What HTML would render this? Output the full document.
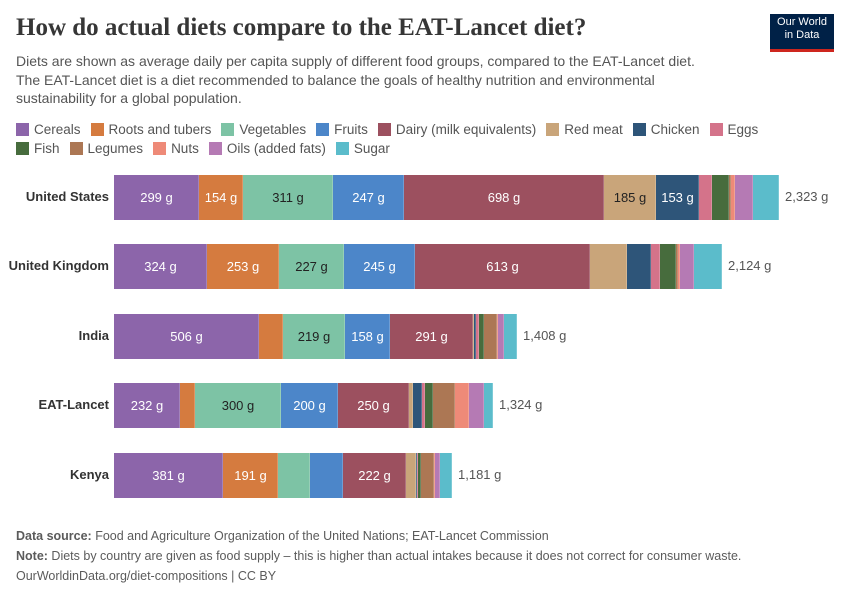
<!DOCTYPE html><html><head><style>
body{margin:0;width:850px;height:600px;background:#fff;font-family:"Liberation Sans",sans-serif;position:relative;overflow:hidden}
.a{position:absolute}
.t{font-family:"Liberation Serif",serif;font-weight:bold;font-size:25px;color:#363636;left:16px;top:14px}
.sub{left:16px;top:52px;font-size:14px;line-height:18.5px;color:#555;width:722px}
.lg{top:120px;left:16px;font-size:13.5px;color:#555;width:800px;line-height:19px}
.lg span{display:inline-block;margin-right:10px;white-space:nowrap}
.lg i{display:inline-block;width:13px;height:13px;vertical-align:-2px;margin-right:5px}
.bar{position:absolute;height:45px}
.s{position:absolute;top:0;height:100%;display:flex;align-items:center;justify-content:center;font-size:13px;color:#fff;white-space:nowrap;overflow:visible}
.cn{position:absolute;right:741px;font-size:13px;font-weight:bold;color:#333;text-align:right}
.tot{position:absolute;font-size:13px;color:#555}
.f{left:16px;font-size:12.5px;color:#5b5b5b}
</style></head><body>
<div class="a t">How do actual diets compare to the EAT-Lancet diet?</div>
<div class="a" style="left:770px;top:14px;width:64px;height:38px;background:#002147;border-bottom:3px solid #ce261e;color:#fff;font-size:11px;line-height:13px;text-align:center;padding-top:2px;box-sizing:border-box">Our World<br>in Data</div>
<div class="a sub">Diets are shown as average daily per capita supply of different food groups, compared to the EAT-Lancet diet.<br>The EAT-Lancet diet is a diet recommended to balance the goals of healthy nutrition and environmental sustainability for a global population.</div>
<div class="a lg">
<span><i style="background:#8c65aa"></i>Cereals</span><span><i style="background:#d57b3f"></i>Roots and tubers</span><span><i style="background:#7dc3a5"></i>Vegetables</span><span><i style="background:#4c86c9"></i>Fruits</span><span><i style="background:#9c505f"></i>Dairy (milk equivalents)</span><span><i style="background:#c9a57a"></i>Red meat</span><span><i style="background:#2e5579"></i>Chicken</span><span><i style="background:#d4738a"></i>Eggs</span><br>
<span><i style="background:#476c3d"></i>Fish</span><span><i style="background:#ac7754"></i>Legumes</span><span><i style="background:#ee8a78"></i>Nuts</span><span><i style="background:#b57ab4"></i>Oils (added fats)</span><span><i style="background:#5bbccb"></i>Sugar</span>
</div>
<div id="c"></div>
<div class="a f" style="top:529px"><b>Data source:</b> Food and Agriculture Organization of the United Nations; EAT-Lancet Commission</div>
<div class="a f" style="top:549px"><b>Note:</b> Diets by country are given as food supply – this is higher than actual intakes because it does not correct for consumer waste.</div>
<div class="a f" style="top:569px">OurWorldinData.org/diet-compositions | CC BY</div>
<script>
var col=["#8c65aa","#d57b3f","#7dc3a5","#4c86c9","#9c505f","#c9a57a","#2e5579","#d4738a","#476c3d","#ac7754","#ee8a78","#b57ab4","#5bbccb"];
var rows=[
["United States",175,[114,199,243,333,404,604,656,699,712,729,731,735,753,779],["299 g","154 g","311 g","247 g","698 g","185 g","153 g"],"2,323 g"],
["United Kingdom",244,[114,207,279,344,415,590,627,651,660,676,678,680,694,722],["324 g","253 g","227 g","245 g","613 g"],"2,124 g"],
["India",314,[114,259,283,345,390,473,474,476,479,484,497,498,504,517],["506 g","","219 g","158 g","291 g"],"1,408 g"],
["EAT-Lancet",383,[114,180,195,281,338,409,413,422,425,433,455,469,484,493],["232 g","","300 g","200 g","250 g"],"1,324 g"],
["Kenya",453,[114,223,278,310,343,406,416,417,418,421,434,435,440,452],["381 g","191 g","","","222 g"],"1,181 g"]];
var h="";
rows.forEach(r=>{
h+='<div class="cn" style="top:'+(r[1]+14)+'px">'+r[0]+'</div><div class="bar" style="left:0;top:'+r[1]+'px;width:850px">';
for(var i=0;i<13;i++){var l=r[2][i],w=r[2][i+1]-l;var t=r[3][i]||"";var c=(i==2||i==5)?"#222":"#fff";
h+='<div class="s" style="left:'+l+'px;width:'+w+'px;background:'+col[i]+';color:'+c+';box-shadow:inset -0.5px 0 0 rgba(255,255,255,.4)">'+t+'</div>';}
h+='</div><div class="tot" style="left:'+(r[2][13]+6)+'px;top:'+(r[1]+14)+'px">'+r[4]+'</div>';
});
document.getElementById("c").innerHTML=h;
</script>
</body></html>
